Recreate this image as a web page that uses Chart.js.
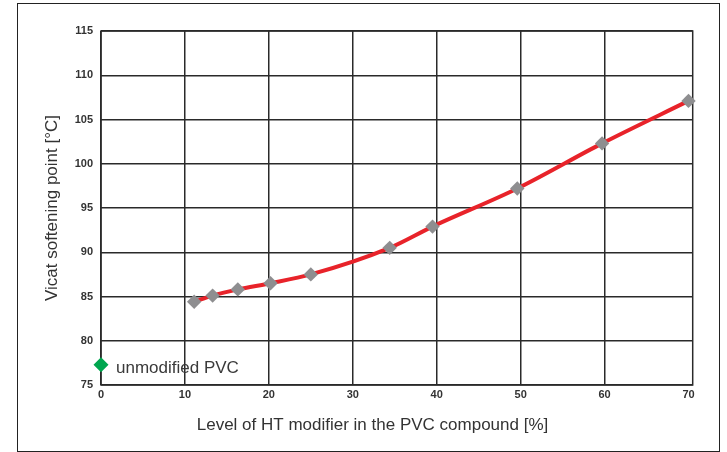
<!DOCTYPE html>
<html><head><meta charset="utf-8">
<script src="https://cdn.jsdelivr.net/npm/chart.js@4/dist/chart.umd.min.js"></script>
<style>
html,body{margin:0;padding:0;background:#fff;overflow:hidden;}
#wrap{position:relative;width:727px;height:452px;}
#frame{position:absolute;left:17px;top:3px;width:703px;height:449px;box-sizing:border-box;border:1px solid #222;}
canvas{position:absolute;left:0;top:0;}
</style></head><body>
<div id="wrap"><div id="frame"></div><canvas id="c" width="727" height="452"></canvas></div>
<script>
// ---- data ----
const modifierLevel = [11.1, 13.3, 16.3, 20.2, 25.0, 34.4, 39.5, 49.6, 59.7, 70.0];
const vicatPoint    = [84.4, 85.1, 85.8, 86.5, 87.5, 90.5, 92.9, 97.2, 102.3, 107.1];
const unmodifiedLevel = [0];
const unmodifiedVicat = [77.3];
const unmodifiedLabel = 'unmodified PVC';
const xTicks = [0, 10, 20, 30, 40, 50, 60, 70];
const yTicks = [75, 80, 85, 90, 95, 100, 105, 110, 115];
const xTitle = 'Level of HT modifier in the PVC compound [%]';
const yTitle = 'Vicat softening point [°C]';

const curve = modifierLevel.map((x, i) => ({x: x, y: vicatPoint[i]}));
const unmod = unmodifiedLevel.map((x, i) => ({x: x, y: unmodifiedVicat[i]}));

const frameRect = {
  id: 'frameRect',
  beforeDatasetsDraw(chart) {
    const a = chart.chartArea, ctx = chart.ctx;
    ctx.save();
    ctx.strokeStyle = '#2a2a2a';
    ctx.lineWidth = 1.5;
    ctx.strokeRect(a.left, a.top, a.right - a.left, a.bottom - a.top);
    ctx.restore();
  }
};
const pointLabel = {
  id: 'pointLabel',
  afterDatasetsDraw(chart) {
    const meta = chart.getDatasetMeta(1);
    const el = meta.data[0];
    if (!el) return;
    const ctx = chart.ctx;
    ctx.save();
    ctx.font = '17px "Liberation Sans", Arial, sans-serif';
    ctx.fillStyle = '#3a3a3a';
    ctx.textAlign = 'left';
    ctx.textBaseline = 'alphabetic';
    ctx.fillText(unmodifiedLabel, el.x + 15, el.y + 8.7);
    ctx.restore();
  }
};

const tickFont = {family: '"Liberation Sans", Arial, sans-serif', size: 11, weight: 'bold'};
const titleFont = {family: '"Liberation Sans", Arial, sans-serif', size: 17, weight: 'normal'};
const lastX = xTicks[xTicks.length - 1];

new Chart(document.getElementById('c'), {
  type: 'scatter',
  data: {
    datasets: [
      {
        data: curve,
        showLine: true,
        borderColor: '#e8232a',
        borderWidth: 4,
        cubicInterpolationMode: 'monotone',
        pointStyle: 'rectRot',
        pointRadius: 7.2,
        pointBackgroundColor: '#8e8e90',
        pointBorderColor: '#8e8e90',
        pointBorderWidth: 0,
        clip: false
      },
      {
        data: unmod,
        showLine: false,
        pointStyle: 'rectRot',
        pointRadius: 7.5,
        pointBackgroundColor: '#00a64f',
        pointBorderColor: '#00a64f',
        pointBorderWidth: 0,
        clip: false
      }
    ]
  },
  options: {
    responsive: false,
    animation: false,
    devicePixelRatio: 1,
    layout: {padding: {left: 52.3, right: 34.3, top: 31, bottom: 16}},
    plugins: {
      legend: {display: false},
      tooltip: {enabled: false},
      title: {
        display: true,
        text: xTitle,
        position: 'bottom',
        align: 'center',
        color: '#333',
        font: titleFont,
        padding: {top: 2.6, bottom: 0},
        fullSize: true
      }
    },
    scales: {
      x: {
        type: 'linear',
        min: 0,
        max: 70.5,
        afterBuildTicks: s => { s.ticks = xTicks.map(v => ({value: v})); },
        afterFit: s => { s.height = 28; },
        ticks: {font: tickFont, color: '#333', padding: 3, maxRotation: 0, autoSkip: false, includeBounds: false},
        grid: {
          color: c => (c.tick && c.tick.value === lastX) ? 'rgba(0,0,0,0)' : '#2a2a2a',
          lineWidth: 1.5,
          drawTicks: false
        },
        border: {display: false}
      },
      y: {
        type: 'linear',
        min: 75,
        max: 115,
        afterBuildTicks: s => { s.ticks = yTicks.map(v => ({value: v})); },
        afterFit: s => { s.width = 48.7; },
        ticks: {font: tickFont, color: '#333', padding: 8, autoSkip: false},
        grid: {color: '#2a2a2a', lineWidth: 1.5, drawTicks: false},
        border: {display: false},
        title: {display: true, text: yTitle, color: '#333', font: titleFont, padding: {top: -10, bottom: 0}}
      }
    }
  },
  plugins: [frameRect, pointLabel]
});
</script>
</body></html>
